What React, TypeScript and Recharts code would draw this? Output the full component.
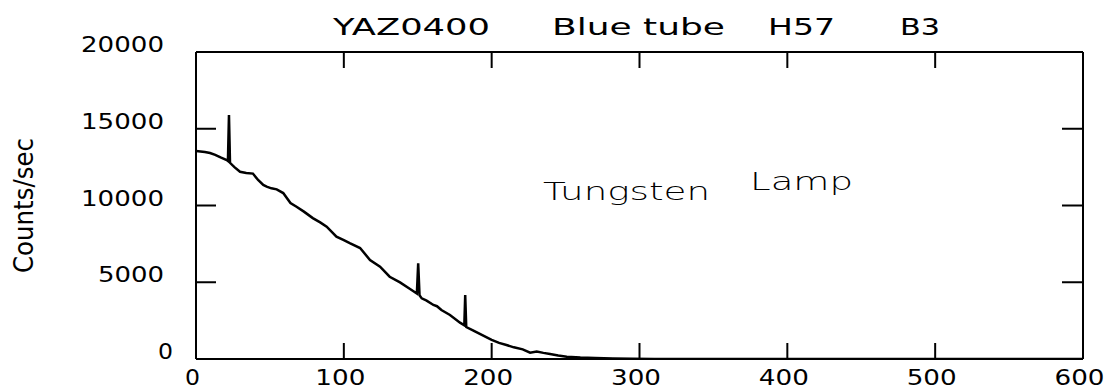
import { LineChart, Line, XAxis, YAxis } from "recharts";

const channels = [
  0, 3, 6, 9.5, 13, 17, 20.8, 21.6, 22.3, 23.0, 26, 29.8, 34, 38.5, 42, 45.5, 47.8,
  51, 54.6, 59, 63.9, 68, 73, 79, 84, 88.4, 95, 100, 104, 111, 117.7, 124.5,
  131, 138, 144.8, 149.4, 150.3, 151.2, 152.7, 156, 160.6, 163, 166, 171.8,
  178.6, 181.5, 182.1, 182.8, 187, 192, 200, 205, 210, 215, 221, 226, 230.5,
  235, 239.5, 245, 250.8, 260, 270, 282, 295, 310, 400, 500, 600,
];
const countsPerSec = [
  13550, 13520, 13480, 13420, 13300, 13120, 12960, 12900, 15900, 12780, 12500,
  12200, 12120, 12080, 11660, 11340, 11230, 11120, 11050, 10810, 10160, 9920,
  9600, 9180, 8900, 8620, 7970, 7750, 7550, 7230, 6450, 6010, 5360, 4990, 4560,
  4270, 6230, 4150, 3950, 3800, 3520, 3440, 3190, 2870, 2370, 2200, 4170, 2080,
  1880, 1630, 1250, 1050, 910, 760, 630, 410, 480, 400, 330, 230, 150, 90, 60,
  40, 15, 0, 0, 0, 0,
];

const xTicks = [0, 100, 200, 300, 400, 500, 600];
const yTicks = [0, 5000, 10000, 15000, 20000];

const rows = channels.map((c, i) => ({ channel: c, counts: countsPerSec[i] }));

const FONT = "DejaVu Sans";

function BottomTick({ x, y, payload }: any) {
  const label = String(payload.value);
  return (
    <g>
      <line x1={x} y1={y} x2={x} y2={y - 16} stroke="#000" strokeWidth={2} />
      <text
        x={x - 3.5}
        y={y + 18}
        textAnchor="middle"
        dominantBaseline="central"
        fontSize={22}
        fontFamily={FONT}
        textLength={label.length === 1 ? 15 : 50}
        lengthAdjust="spacingAndGlyphs"
        fill="#000"
      >
        {label}
      </text>
    </g>
  );
}

function LeftTick({ x, y, payload }: any) {
  const label = String(payload.value);
  const len = label.length === 1 ? 15 : label.length * 17 - 2;
  return (
    <g>
      <line x1={x} y1={y} x2={x + 20} y2={y} stroke="#000" strokeWidth={2} />
      <text
        x={label.length === 1 ? x - 23 : x - 32}
        y={y - 7.5}
        textAnchor="end"
        dominantBaseline="central"
        fontSize={22}
        fontFamily={FONT}
        textLength={len}
        lengthAdjust="spacingAndGlyphs"
        fill="#000"
      >
        {label}
      </text>
    </g>
  );
}

function TopTick({ x, y }: any) {
  return <line x1={x} y1={y} x2={x} y2={y + 16} stroke="#000" strokeWidth={2} />;
}

function RightTick({ x, y }: any) {
  return <line x1={x} y1={y} x2={x - 21} y2={y} stroke="#000" strokeWidth={2} />;
}

const axisLine = { stroke: "#000", strokeWidth: 2 };

export default function App() {
  return (
    <div style={{ position: "absolute", left: 0, top: 0, width: 1108, height: 390, background: "#fff" }}>
      <LineChart
        width={1108}
        height={390}
        data={rows}
        margin={{ top: 32, right: 0, bottom: 0, left: 0 }}
      >
        <XAxis
          dataKey="channel"
          type="number"
          domain={[0, 600]}
          allowDataOverflow
          ticks={xTicks}
          interval={0}
          height={31}
          tickSize={0}
          tickMargin={0}
          tickLine={false}
          axisLine={axisLine}
          tick={BottomTick}
        />
        <XAxis
          xAxisId="top"
          orientation="top"
          dataKey="channel"
          type="number"
          domain={[0, 600]}
          allowDataOverflow
          ticks={xTicks}
          interval={0}
          height={20}
          tickSize={0}
          tickMargin={0}
          tickLine={false}
          axisLine={axisLine}
          tick={TopTick}
        />
        <YAxis
          type="number"
          domain={[0, 20000]}
          allowDataOverflow
          ticks={yTicks}
          interval={0}
          width={196}
          tickSize={0}
          tickMargin={0}
          tickLine={false}
          axisLine={axisLine}
          tick={LeftTick}
        />
        <YAxis
          yAxisId="right"
          orientation="right"
          type="number"
          domain={[0, 20000]}
          allowDataOverflow
          ticks={yTicks}
          interval={0}
          width={25}
          tickSize={0}
          tickMargin={0}
          tickLine={false}
          axisLine={axisLine}
          tick={RightTick}
        />
        <Line
          type="linear"
          dataKey="counts"
          stroke="#000"
          strokeWidth={2.5}
          dot={false}
          isAnimationActive={false}
        />
      </LineChart>
      <svg
        width={1108}
        height={390}
        style={{ position: "absolute", left: 0, top: 0, pointerEvents: "none" }}
      >
        <g fontFamily={FONT} fontSize={23} fill="#000">
          <text x={333} y={35} textLength={157} lengthAdjust="spacingAndGlyphs">YAZ0400</text>
          <text x={552} y={35} textLength={173} lengthAdjust="spacingAndGlyphs">Blue tube</text>
          <text x={768} y={35} textLength={67} lengthAdjust="spacingAndGlyphs">H57</text>
          <text x={900} y={35} textLength={40} lengthAdjust="spacingAndGlyphs">B3</text>
        </g>
        <text
          x={33}
          y={205.5}
          transform="rotate(-90 33 205.5)"
          textAnchor="middle"
          fontFamily={FONT}
          fontSize={26}
          textLength={135}
          lengthAdjust="spacingAndGlyphs"
          fill="#000"
        >
          Counts/sec
        </text>
        <g fontFamily={FONT} fontSize={25} fontWeight={200} fill="#000">
          <text x={543} y={200} textLength={167} lengthAdjust="spacingAndGlyphs">Tungsten</text>
          <text x={750} y={190} textLength={103} lengthAdjust="spacingAndGlyphs">Lamp</text>
        </g>
      </svg>
    </div>
  );
}
